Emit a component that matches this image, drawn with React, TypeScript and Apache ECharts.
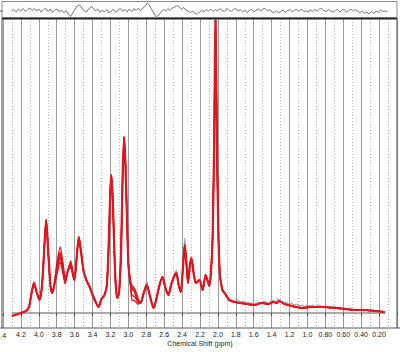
import React, { useEffect, useRef } from "react";
import * as echarts from "echarts";

// Main fitted spectrum: [chemical shift (ppm), intensity]
const spectrumMain: [number, number][] = [
  [4.30, -3], [4.20, 0], [4.145, 2], [4.11, 6], [4.085, 18], [4.054, 30], [4.025, 21], [3.992, 13],
  [3.964, 28], [3.937, 68], [3.918, 93], [3.893, 58], [3.871, 28], [3.852, 20], [3.827, 28], [3.794, 48],
  [3.761, 60], [3.734, 48], [3.706, 33], [3.673, 43], [3.644, 50], [3.618, 38], [3.602, 33], [3.575, 58],
  [3.553, 76], [3.531, 63], [3.498, 41], [3.465, 32], [3.432, 26], [3.399, 18], [3.366, 11], [3.333, 6],
  [3.30, 14], [3.267, 18], [3.24, 28], [3.218, 73], [3.201, 123], [3.19, 138], [3.174, 113], [3.157, 63],
  [3.141, 28], [3.125, 15], [3.103, 21], [3.081, 63], [3.065, 133], [3.048, 176], [3.032, 148], [3.015, 93],
  [2.999, 48], [2.982, 33], [2.96, 25], [2.927, 21], [2.894, 13], [2.864, 10], [2.828, 20], [2.795, 28],
  [2.762, 18], [2.718, 5], [2.685, 15], [2.652, 28], [2.619, 36], [2.586, 25], [2.553, 18], [2.52, 29],
  [2.487, 37], [2.465, 40], [2.438, 28], [2.414, 21], [2.389, 48], [2.37, 68], [2.35, 48], [2.334, 30],
  [2.312, 48], [2.296, 55], [2.268, 38], [2.246, 30], [2.206, 33], [2.17, 23], [2.137, 38], [2.096, 27],
  [2.076, 43], [2.06, 73], [2.043, 163], [2.027, 293], [2.01, 163], [1.993, 73], [1.977, 38], [1.95, 23],
  [1.917, 19], [1.876, 13], [1.818, 11], [1.752, 10], [1.676, 9], [1.588, 8], [1.511, 10], [1.434, 9],
  [1.379, 11], [1.346, 10], [1.313, 12], [1.258, 9], [1.214, 8], [1.127, 6], [1.05, 5], [0.962, 6],
  [0.83, 6], [0.687, 5], [0.577, 4], [0.467, 3], [0.357, 3], [0.248, 2], [0.14, 1],
];

// Other replicate spectra differ only in a few regions
const replicateA: [number, number][] = [
  [3.794, 52], [3.761, 66], [3.734, 52], [3.706, 35], [3.644, 52], [2.96, 28], [2.927, 24], [2.894, 15],
];
const replicateB: [number, number][] = [
  [3.794, 44], [3.761, 55], [3.734, 44], [3.706, 31], [3.644, 47], [2.96, 18], [2.927, 16], [2.894, 11],
];
const replicateC: [number, number][] = [
  [3.794, 40], [3.761, 51], [3.734, 41], [3.706, 29], [3.644, 45], [2.96, 13], [2.927, 12], [2.894, 9],
];

// Raw (gray) data: differences at some peaks, noisy tail
const rawPeaks: [number, number][] = [[2.795, 32], [2.465, 43], [2.37, 75]];
const rawTail: [number, number][] = [
  [1.95, 24], [1.92, 20], [1.90, 16], [1.87, 14], [1.84, 13], [1.81, 12], [1.78, 13], [1.75, 11],
  [1.72, 12], [1.69, 10], [1.66, 11], [1.63, 9], [1.60, 10], [1.57, 9], [1.54, 11], [1.51, 10],
  [1.48, 12], [1.45, 10], [1.42, 11], [1.39, 13], [1.36, 11], [1.33, 14], [1.30, 12], [1.27, 10],
  [1.24, 11], [1.21, 9], [1.18, 10], [1.15, 8], [1.12, 9], [1.09, 7], [1.06, 8], [1.03, 6],
  [1.00, 8], [0.97, 7], [0.94, 8], [0.91, 6], [0.88, 8], [0.85, 7], [0.82, 6], [0.79, 7],
  [0.76, 5], [0.73, 6], [0.70, 7], [0.67, 5], [0.64, 6], [0.61, 4], [0.58, 5], [0.55, 4],
  [0.52, 5], [0.49, 3], [0.46, 4], [0.43, 3], [0.40, 4], [0.37, 2], [0.34, 3], [0.31, 2],
  [0.28, 3], [0.25, 1], [0.22, 2], [0.19, 0], [0.16, 1], [0.13, -1],
];

// Zero baseline extent
const baseline: [number, number][] = [[4.305, 0], [0.137, 0]];

// Residual trace (top panel), sampled every 0.025 ppm from 4.29 ppm
const residualStart = 4.29;
const residualStep = 0.025;
const residualValues: number[] = [
  0, 1.5, -1, 2, 0, 2.5, -0.5, 1.5, 3, 0.5, 2.5, 0, 2, -1, 1.5, 2.5, -0.5, 2, -1.5, 1,
  2, -1, 1, -2, 0.5, -3, -5.5, -2, 2, 5, 6, 3, 0, -1, 2, 4.5, 3, 0, 2, -1.5,
  1, -1, 1.5, -2, 0.5, 1.5, -1.5, 1, 2.5, -0.5, 1.5, -1, 2, -0.5, 2.5, 0.5, 3, 0, 3, 5,
  8, 5, 1, -3, -5.5, -4, -1, 1.5, 0, 2.5, 0.5, 3, 4, 5.5, 4, 2, 3.5, 0.5, 0, -1.5,
  0, -2.5, -3, -1, 0.5, -1, 1.5, 0, 2, -0.5, 1.5, 0, 2.5, 0.5, -0.5, 2.5, 1, -0.5, 1.5, 2.5,
  0, 1.5, -1, 1, -1.5, 0.5, 1.5, -1, 1, 2, 0, 2, 2.5, 0, 1.5, -1, -1.5, 0.5, -2, 0,
  1, -1.5, 0.5, 1.5, -1, 1, 1.5, -0.5, 2, -0.5, 0, -1, 1, -0.5, 1.5, 0, 2, 2.5, 0.5, -0.5,
  1.5, 0, -1, 0.5, 1.5, -1, 1, 1.5, -1.5, 0.5, 2, 0, 1.5, -0.5, -1.5, 0, -2.5, -1, -3, -0.5,
  -2.5, 0, -1.5, 1, -0.5, 0, -0.5,
];

const axisTitle = "Chemical Shift (ppm)";
const leftEdgeLabel = "4.4";

const RED = "#e3141c";

function withOverrides(base: [number, number][], over: [number, number][]): [number, number][] {
  return base.map(([p, v]) => {
    const o = over.find((q) => q[0] === p);
    return [p, o ? o[1] : v];
  });
}

export default function App() {
  const ref = useRef<HTMLDivElement>(null);

  useEffect(() => {
    if (!ref.current) return;
    const chart = echarts.init(ref.current, null, { renderer: "svg" });

    const rawData = withOverrides(spectrumMain, rawPeaks)
      .filter((p) => p[0] > 1.95)
      .concat(rawTail);
    const residualData = residualValues.map((v, i) => [residualStart - i * residualStep, v]);

    const font = "'Liberation Sans', Arial, sans-serif";

    const xBase = {
      type: "value" as const,
      inverse: true,
      min: 0,
      max: 4.4,
      interval: 0.2,
    };

    chart.setOption({
      animation: false,
      backgroundColor: "#ffffff",
      grid: [
        { left: 1.8, top: 19, width: 400.8, height: 309 },
        { left: 1.8, top: 3, width: 400.8, height: 16 },
      ],
      xAxis: [
        {
          ...xBase,
          gridIndex: 0,
          axisLine: { show: false },
          axisTick: { show: true, length: 3, lineStyle: { color: "#444", width: 1 } },
          axisLabel: {
            show: true,
            interval: 0,
            showMinLabel: true,
            showMaxLabel: true,
            fontSize: 7,
            fontFamily: font,
            color: "#222",
            margin: 3,
            formatter: (v: number) => {
              if (v < 0.05 || v > 4.35) return "";
              return v >= 0.999 ? v.toFixed(1) : v.toFixed(2);
            },
          },
          splitLine: { show: true, lineStyle: { color: "#9a9a9a", width: 1 } },
          minorTick: { show: false, splitNumber: 2 },
          minorSplitLine: { show: true, lineStyle: { color: "#b8b8b8", width: 1, type: [1, 2] } },
        },
        {
          ...xBase,
          gridIndex: 1,
          axisLine: { show: false },
          axisTick: { show: false },
          axisLabel: { show: false },
          splitLine: { show: false },
        },
      ],
      yAxis: [
        {
          type: "value",
          gridIndex: 0,
          min: -15,
          max: 294,
          axisLine: { show: false },
          axisTick: { show: false },
          axisLabel: { show: false },
          splitLine: { show: false },
        },
        {
          type: "value",
          gridIndex: 1,
          min: -8,
          max: 8,
          axisLine: { show: false },
          axisTick: { show: false },
          axisLabel: { show: false },
          splitLine: { show: false },
        },
      ],
      series: [
        {
          type: "line",
          xAxisIndex: 0,
          yAxisIndex: 0,
          data: baseline,
          symbol: "none",
          lineStyle: { color: "#555", width: 1 },
          z: 1,
        },
        {
          type: "line",
          xAxisIndex: 0,
          yAxisIndex: 0,
          data: rawData,
          symbol: "none",
          smooth: 0.25,
          lineStyle: { color: "#a0a0a0", width: 1.2 },
          z: 2,
        },
        ...[replicateA, replicateB, replicateC].map((r) => ({
          type: "line",
          xAxisIndex: 0,
          yAxisIndex: 0,
          data: withOverrides(spectrumMain, r),
          symbol: "none",
          smooth: 0.25,
          lineStyle: { color: RED, width: 1.3 },
          z: 3,
        })),
        {
          type: "line",
          xAxisIndex: 0,
          yAxisIndex: 0,
          data: spectrumMain,
          symbol: "none",
          smooth: 0.25,
          lineStyle: { color: RED, width: 2.2 },
          z: 4,
        },
        {
          type: "line",
          xAxisIndex: 1,
          yAxisIndex: 1,
          data: residualData,
          symbol: "none",
          lineStyle: { color: "#777", width: 1 },
          z: 4,
        },
      ],
      graphic: [
        { type: "rect", shape: { x: 2, y: 1.5, width: 395, height: 16.5 }, style: { fill: "none", stroke: "#888", lineWidth: 1 }, z: 10 },
        { type: "line", shape: { x1: 0, y1: 11, x2: 2.5, y2: 11 }, style: { stroke: "#555", lineWidth: 1 }, z: 10 },
        { type: "line", shape: { x1: 2, y1: 18.5, x2: 397, y2: 18.5 }, style: { stroke: "#222", lineWidth: 2 }, z: 10 },
        { type: "line", shape: { x1: 2, y1: 18, x2: 2, y2: 328 }, style: { stroke: "#666", lineWidth: 1.2 }, z: 10 },
        { type: "line", shape: { x1: 397, y1: 18, x2: 397, y2: 328 }, style: { stroke: "#666", lineWidth: 1.2 }, z: 10 },
        { type: "line", shape: { x1: 0, y1: 328, x2: 400, y2: 328 }, style: { stroke: "#555", lineWidth: 1 }, z: 10 },
        {
          type: "text",
          x: 1.2,
          y: 335,
          style: { text: leftEdgeLabel, fontSize: 7, fontFamily: font, fill: "#222", align: "center", verticalAlign: "middle" },
          z: 10,
        },
        {
          type: "text",
          x: 200,
          y: 343,
          style: { text: axisTitle, fontSize: 7, fontFamily: font, fill: "#222", align: "center", verticalAlign: "middle" },
          z: 10,
        },
      ],
    });

    return () => chart.dispose();
  }, []);

  return (
    <div
      ref={ref}
      style={{ position: "absolute", left: 0, top: 0, width: 400, height: 352, background: "#fff" }}
    />
  );
}
